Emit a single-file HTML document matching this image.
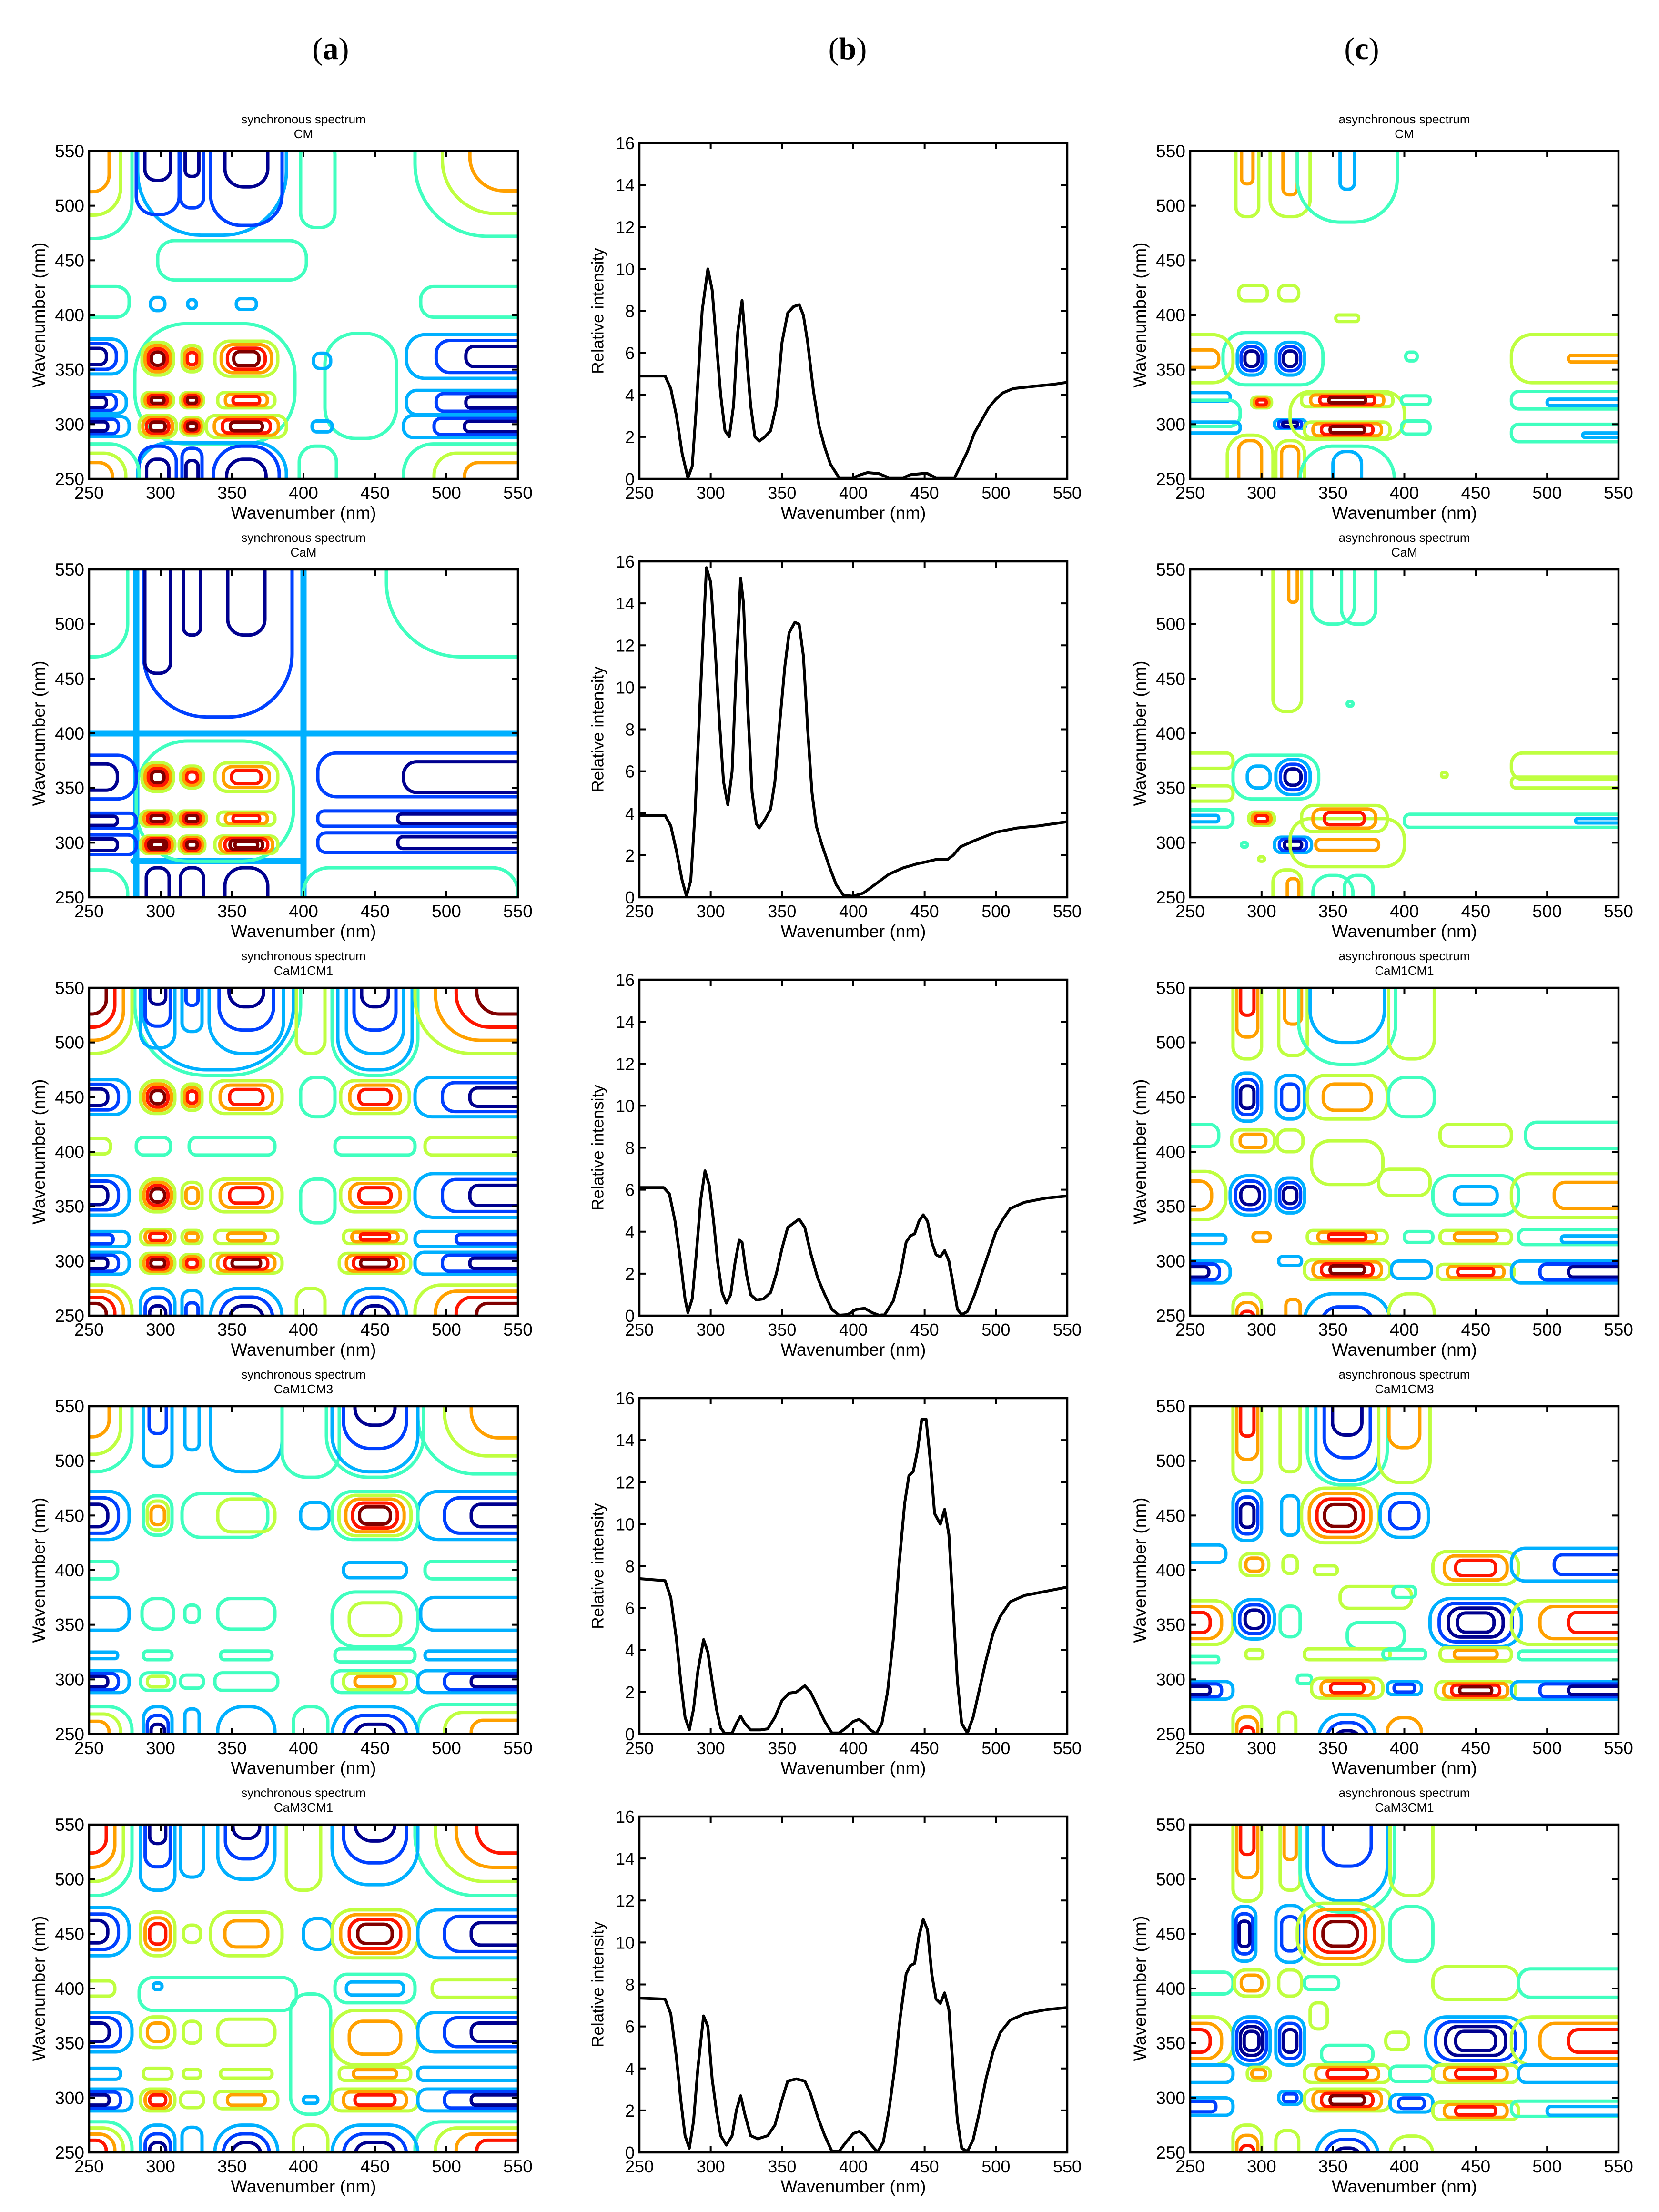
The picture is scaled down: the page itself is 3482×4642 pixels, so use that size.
<!DOCTYPE html>
<html><head><meta charset="utf-8">
<style>
html,body{margin:0;padding:0;background:#fff;}
svg{display:block;}
text{font-family:"Liberation Sans",sans-serif;fill:#000;}
</style></head>
<body>
<svg id="fig" xmlns="http://www.w3.org/2000/svg" width="3482" height="4642" viewBox="0 0 3482 4642">
<rect x="0" y="0" width="3482" height="4642" fill="#fff"/>
<text x="694" y="124" text-anchor="middle" style="font-family:'Liberation Serif',serif;font-size:66px;">(<tspan font-weight="bold">a</tspan>)</text>
<text x="1779" y="124" text-anchor="middle" style="font-family:'Liberation Serif',serif;font-size:66px;">(<tspan font-weight="bold">b</tspan>)</text>
<text x="2858" y="124" text-anchor="middle" style="font-family:'Liberation Serif',serif;font-size:66px;">(<tspan font-weight="bold">c</tspan>)</text>
</svg>
<script>
// ---------- shared axis ticks ----------
const xTicks = [250, 300, 350, 400, 450, 500, 550];
const yTicksContour = [250, 300, 350, 400, 450, 500, 550];
const yTicksLine = [0, 2, 4, 6, 8, 10, 12, 14, 16];
const sampleNames = ["CM", "CaM", "CaM1CM1", "CaM1CM3", "CaM3CM1"];

// ---------- line spectra (column b) ----------
const wlCM = [250,268,272,276,280,284,287,290,294,298,301,304,307,310,313,316,319,322,325,328,331,334,338,342,346,350,354,358,362,365,368,372,376,380,384,390,400,405,410,418,425,435,440,448,452,458,471,475,480,485,490,495,500,505,512,525,540,550];
const intCM = [4.9,4.9,4.3,3.0,1.2,0.05,0.6,3.5,8,10,9,6.5,4,2.3,2.0,3.5,7,8.5,6,3.5,2.0,1.8,2.0,2.3,3.5,6.5,7.9,8.2,8.3,7.8,6.5,4.2,2.5,1.5,0.7,0.05,0.05,0.2,0.3,0.25,0.05,0.05,0.2,0.25,0.25,0.05,0.05,0.6,1.3,2.2,2.8,3.4,3.8,4.1,4.3,4.4,4.5,4.6];
const wlCaM = [250,268,272,276,280,283,286,289,293,297,300,303,306,309,312,315,318,321,323,326,329,332,334,338,342,345,348,352,355,359,362,365,368,371,374,378,383,388,393,400,407,415,425,435,445,452,458,466,470,475,485,500,515,530,550];
const intCaM = [3.9,3.9,3.4,2.2,0.8,0.05,0.8,4,10,15.7,15,12,8.5,5.5,4.4,6,11,15.2,14,9,5,3.5,3.3,3.7,4.2,5.5,8,11,12.6,13.1,13,11.5,8,5,3.4,2.5,1.5,0.6,0.1,0.05,0.2,0.6,1.1,1.4,1.6,1.7,1.8,1.8,2.0,2.4,2.7,3.1,3.3,3.4,3.6];
const wlCaM1CM1 = [250,267,271,275,279,282,284,287,290,293,296,299,302,305,308,311,314,317,320,322,325,328,332,337,342,346,350,354,358,362,366,370,375,380,385,390,396,402,408,413,418,422,428,433,437,440,443,446,449,452,455,458,461,464,467,470,473,476,480,485,490,495,500,505,510,520,535,550];
const intCaM1CM1 = [6.1,6.1,5.8,4.5,2.5,0.8,0.15,0.8,3,5.5,6.9,6.2,4.5,2.5,1.1,0.6,1,2.5,3.6,3.5,2,1,0.75,0.8,1.1,2,3.2,4.2,4.4,4.6,4.2,3,1.8,1,0.3,0.02,0.05,0.3,0.35,0.15,0.02,0.05,0.7,2,3.5,3.8,3.9,4.5,4.8,4.5,3.5,2.9,2.8,3.1,2.6,1.5,0.3,0.05,0.2,1,2,3,4,4.6,5.1,5.4,5.6,5.7];
const wlCaM1CM3 = [250,268,272,276,279,282,285,288,291,295,298,301,304,307,310,315,318,321,324,328,335,340,345,350,355,360,366,370,375,380,385,390,395,400,404,408,412,416,420,424,428,432,436,439,442,445,448,451,454,457,461,464,467,470,473,476,480,484,488,493,498,503,510,520,535,550];
const intCaM1CM3 = [7.4,7.3,6.5,4.5,2.5,0.8,0.2,1.2,3,4.5,3.9,2.5,1.2,0.3,0.02,0.05,0.5,0.85,0.5,0.2,0.2,0.25,0.8,1.6,1.95,2.0,2.3,2.0,1.3,0.6,0.05,0.05,0.3,0.6,0.7,0.5,0.2,0.02,0.5,2,4.5,8,11,12.3,12.5,13.5,15,15,13,10.5,10,10.7,9.5,6,2.5,0.5,0.05,0.8,2,3.5,4.8,5.6,6.3,6.6,6.8,7.0];
const wlCaM3CM1 = [250,268,272,276,279,282,285,288,291,295,298,301,304,307,311,315,318,321,324,328,333,340,345,350,354,360,366,370,375,380,385,390,395,400,404,408,412,417,421,425,429,433,437,440,443,446,449,452,455,458,461,464,467,470,473,476,480,484,488,493,498,503,510,520,535,550];
const intCaM3CM1 = [7.35,7.3,6.6,4.5,2.5,0.8,0.2,1.5,4,6.5,6.0,3.5,2,0.8,0.35,0.8,2,2.7,1.8,0.8,0.65,0.8,1.3,2.5,3.4,3.5,3.4,2.8,1.7,0.8,0.05,0.05,0.5,0.9,1.0,0.8,0.4,0.02,0.5,2,4,6.5,8.5,8.9,9.0,10.3,11.1,10.6,8.5,7.3,7.1,7.6,6.8,4,1.5,0.2,0.05,0.6,1.8,3.5,4.8,5.7,6.3,6.6,6.8,6.9];

// ---------- contour blobs: [cx, cy, halfWidth, halfHeight, firstLevel, ringCount, sign] in nm ----------
const syncCM = [
[338,337,56,55,0,1,1],
[298,360,11,15,1,4,1],[322,360,7,12,1,3,1],[360,360,22,16,1,4,1],
[298,322,11,7,1,4,1],[322,322,8,7,1,4,1],[360,322,20,7,1,3,1],
[298,298,13,10,1,4,1],[322,298,8,8,1,4,1],[360,298,28,10,1,4,1],
[250,362,26,16,0,3,-1],[250,320,26,10,0,3,-1],[250,298,28,9,0,3,-1],
[550,362,78,20,0,3,-1],[550,320,78,11,0,3,-1],[550,298,80,10,0,3,-1],
[336,570,52,97,0,1,-1],[298,570,15,78,1,2,-1],[322,570,8,72,1,2,-1],[360,570,25,88,1,2,-1],
[336,250,52,33,0,1,-1],[298,250,13,30,1,2,-1],[322,250,7,28,1,2,-1],[360,250,23,30,1,2,-1],
[250,550,30,80,0,3,1],[550,550,72,78,0,3,1],[250,250,35,32,0,3,1],[550,250,80,32,0,3,1],
[410,520,12,40,0,1,1],[410,250,13,30,0,1,1],[250,412,28,14,0,1,1],[550,412,68,14,0,1,1],[440,335,25,48,0,1,1],[350,450,52,18,0,1,1],
[298,410,5,6,0,1,-1],[322,410,3,4,0,1,-1],[360,410,7,5,0,1,-1],[413,358,6,7,0,1,-1],[413,298,7,5,0,1,-1]
];
const syncCaM = [
[283,400,0.6,160,0,1,-1],[400,400,0.6,160,0,1,-1],[400,400,160,0.6,0,1,-1],[340,283,60,0.6,0,1,-1],
[340,560,52,145,1,1,-1],[298,570,9,115,2,1,-1],[322,570,6,80,2,1,-1],[360,570,13,80,2,1,-1],
[338,338,55,55,0,1,1],
[298,360,11,13,1,4,1],[322,360,8,10,1,3,1],[360,360,22,13,1,3,1],
[298,322,12,7,1,4,1],[322,322,10,7,1,4,1],[360,322,20,6,1,3,1],
[298,298,12,8,1,5,1],[322,298,9,8,1,4,1],[360,298,22,8,1,5,1],
[250,360,33,20,1,2,-1],[250,320,33,7,1,2,-1],[250,298,33,9,1,2,-1],
[550,362,140,20,1,1,-1],[550,360,80,14,2,1,-1],[550,322,140,7,1,2,-1],[550,300,140,9,1,2,-1],
[298,245,8,32,2,1,-1],[322,245,8,32,2,1,-1],[360,245,15,32,2,1,-1],
[550,550,92,80,0,1,1],[250,550,27,80,0,1,1],[250,250,27,25,0,1,1],[475,250,75,27,0,1,1]
];
const syncCaM1CM1 = [
[340,570,58,100,0,1,1],[450,570,30,100,0,1,1],
[340,570,53,95,0,1,-1],[450,570,26,95,0,1,-1],
[298,570,12,75,0,3,-1],[322,570,7,60,0,2,-1],[360,570,26,80,0,3,-1],[450,570,20,80,0,3,-1],
[298,245,12,30,0,3,-1],[322,245,7,28,0,2,-1],[360,245,25,30,0,3,-1],[450,245,22,30,0,3,-1],
[250,450,28,16,0,3,-1],[250,360,28,18,0,3,-1],[250,320,28,7,0,2,-1],[250,298,28,10,0,3,-1],
[550,450,72,18,0,3,-1],[550,360,72,20,0,3,-1],[550,320,72,7,0,2,-1],[550,298,72,10,0,3,-1],
[298,450,12,15,1,4,1],[322,450,7,12,1,3,1],[360,450,25,15,1,3,1],[450,450,24,15,1,3,1],
[298,360,12,15,1,4,1],[322,360,7,12,1,2,1],[360,360,25,15,1,3,1],[450,360,24,15,1,3,1],
[298,322,12,7,1,3,1],[322,322,7,6,1,2,1],[360,322,22,6,1,2,1],[450,322,22,6,1,3,1],
[298,298,12,9,1,4,1],[322,298,8,8,1,3,1],[360,298,25,9,1,4,1],[450,298,25,9,1,4,1],
[410,450,12,18,0,1,1],[410,355,12,20,0,1,1],[295,405,12,8,0,1,1],[350,405,30,8,0,1,1],[450,405,28,8,0,1,1],
[250,405,15,7,1,1,1],[550,405,65,8,1,1,1],[405,570,10,80,1,1,1],[405,245,10,30,1,1,1],
[250,550,30,60,1,4,1],[550,550,72,60,1,4,1],[250,250,30,28,1,4,1],[550,250,72,28,1,4,1]
];
const syncCaM1CM3 = [
[250,550,30,60,0,3,1],[550,550,70,62,0,3,1],[250,250,30,25,0,3,1],[550,250,70,27,0,3,1],
[298,570,10,75,0,2,-1],[322,570,5,60,0,1,-1],[360,570,25,80,0,1,-1],[405,570,20,85,0,1,1],[450,570,34,85,0,1,1],[450,570,30,80,0,3,-1],
[250,450,28,22,0,3,-1],[550,450,70,22,0,3,-1],[298,450,10,18,0,3,1],[345,450,30,20,0,1,1],[360,450,20,15,1,1,1],[408,450,10,12,0,1,-1],[450,450,30,22,0,5,1],
[250,400,20,8,0,1,1],[450,400,22,7,0,1,-1],[550,400,65,8,0,1,1],
[250,360,28,15,0,1,-1],[298,360,11,14,0,1,1],[322,360,5,8,0,1,1],[360,360,20,14,0,1,1],[450,355,30,25,0,2,1],[550,360,68,15,0,1,-1],
[250,322,20,3,0,1,-1],[298,322,10,4,0,1,1],[360,322,18,4,0,1,1],[450,322,28,6,0,1,1],[550,322,65,4,0,1,-1],
[250,298,28,10,0,3,-1],[298,298,12,8,0,2,1],[322,298,8,6,0,1,1],[360,298,22,8,0,1,1],[450,298,30,10,0,3,1],[550,298,70,10,0,3,-1],
[298,245,10,30,0,3,-1],[322,245,5,28,0,1,-1],[360,245,20,30,0,1,-1],[405,245,12,30,0,1,1],[450,245,30,30,0,3,-1]
];
const syncCaM3CM1 = [
[250,550,30,65,0,4,1],[550,550,72,65,0,4,1],[250,250,30,28,0,4,1],[550,250,72,28,0,4,1],
[298,570,12,80,0,3,-1],[322,570,8,68,0,1,-1],[360,570,20,70,0,3,-1],[400,570,12,80,1,1,1],[450,570,30,75,0,3,-1],
[250,452,28,22,0,3,-1],[298,450,12,20,1,3,1],[322,450,6,8,1,1,1],[360,450,25,20,1,2,1],[410,450,10,14,0,1,-1],[450,450,30,22,1,4,1],[550,450,70,22,0,3,-1],
[340,395,55,15,0,1,1],[298,402,3,3,0,1,-1],[450,400,28,13,0,1,1],[450,400,20,6,0,1,-1],[250,400,18,7,1,1,1],[550,400,60,8,1,1,1],[405,340,14,55,0,1,1],
[250,360,30,18,0,3,-1],[298,360,12,14,1,2,1],[322,360,6,10,1,1,1],[360,360,20,12,1,1,1],[450,355,30,25,1,2,1],[550,360,70,18,0,3,-1],
[250,322,22,5,0,1,-1],[298,322,10,5,1,1,1],[322,322,6,4,1,1,1],[360,322,18,4,1,1,1],[450,322,25,6,1,2,1],[550,322,70,6,0,1,-1],
[250,298,30,10,0,3,-1],[298,298,12,10,1,3,1],[322,298,8,7,1,1,1],[360,298,22,8,1,2,1],[405,298,5,3,0,1,-1],[450,298,30,10,1,3,1],[550,298,70,10,0,3,-1],
[298,245,12,30,0,3,-1],[322,245,7,28,0,1,-1],[360,245,22,30,0,3,-1],[405,245,12,30,1,1,1],[450,245,30,30,0,3,-1]
];
const asyncCM = [
[290,560,8,70,1,1,1],[290,560,4,40,2,1,1],[320,560,14,70,1,1,1],[320,560,5,50,2,1,1],[360,560,35,75,0,1,1],[360,560,5,45,0,1,-1],
[294,420,10,7,1,1,1],[319,420,7,7,1,1,1],[360,397,8,3,1,1,1],
[308,360,35,24,0,1,1],[293,360,10,15,0,3,-1],[320,360,10,15,0,3,-1],
[250,360,30,22,1,1,1],[250,360,20,8,2,1,1],[250,325,28,4,0,1,-1],[250,310,35,12,0,1,1],[250,297,35,5,0,1,-1],
[300,320,7,5,1,3,1],[320,300,11,4,0,3,-1],
[360,308,40,22,1,1,1],[360,322,32,6,1,4,1],[360,295,30,7,1,4,1],
[405,362,4,4,0,1,1],[408,322,10,4,0,1,1],[408,297,10,6,0,1,1],
[550,360,75,22,1,1,1],[550,360,35,3,2,1,1],[550,322,75,8,0,1,1],[550,320,50,3,0,1,-1],[550,292,75,8,0,1,1],[550,290,25,2,0,1,-1],
[292,245,16,45,1,1,1],[292,245,8,40,2,1,1],[320,245,10,40,1,1,1],[320,245,6,35,2,1,1],[360,245,33,35,0,1,1],[360,245,10,30,0,1,-1]
];
const asyncCaM = [
[318,560,10,140,1,1,1],[322,560,3,40,2,1,1],[350,560,15,60,0,1,1],[368,560,12,60,0,1,1],[362,427,2,2,0,1,1],[428,362,2,2,1,1,1],
[310,360,30,20,0,1,1],[298,360,8,10,0,1,-1],[322,360,12,16,0,3,-1],
[250,375,30,7,1,1,1],[250,345,30,7,1,1,1],[250,322,30,8,0,1,1],[250,322,20,3,0,1,-1],
[300,322,9,6,1,3,1],[322,298,13,7,0,3,-1],[288,298,2,2,0,1,1],[300,285,2,2,1,1,1],
[360,300,40,22,1,1,1],[358,322,30,12,1,3,1],[360,298,22,5,2,1,1],
[550,370,75,12,1,1,1],[550,355,75,5,1,1,1],[550,320,150,6,0,1,1],[550,320,30,2,0,1,-1],
[318,245,10,30,1,1,1],[322,245,4,22,2,1,1],[350,245,14,25,0,1,1],[368,245,10,25,0,1,1]
];
const asyncCaM1CM1 = [
[290,560,10,75,1,3,1],[322,560,10,72,1,2,1],[360,560,34,80,0,1,1],[360,560,26,60,0,1,-1],[405,560,16,75,1,1,1],
[290,450,10,22,0,3,-1],[320,450,10,20,0,2,-1],[360,450,28,20,1,2,1],[405,450,16,18,0,1,1],
[250,415,20,10,0,1,1],[294,410,15,10,1,2,1],[320,410,9,10,1,1,1],[360,390,25,20,1,1,1],[550,415,65,12,0,1,1],[450,415,25,10,1,1,1],
[250,360,25,22,1,2,1],[292,360,14,18,0,3,-1],[320,360,10,16,0,3,-1],[450,360,30,18,0,1,1],[450,360,15,8,0,1,-1],[550,360,75,20,1,2,1],[400,372,18,12,1,1,1],
[250,320,25,4,0,1,-1],[300,322,6,4,2,1,1],[360,322,28,6,1,3,1],[410,322,10,5,0,1,1],[450,322,25,6,1,2,1],[550,322,70,7,0,1,1],[550,320,40,3,0,1,-1],
[250,290,28,10,0,3,-1],[320,300,8,4,0,1,-1],[360,292,30,9,1,4,1],[405,292,14,8,0,1,-1],[450,290,27,7,1,3,1],[550,290,75,10,0,3,-1],
[290,240,10,30,1,3,1],[322,240,5,25,2,1,1],[360,240,30,30,0,2,-1],[405,240,16,30,1,1,1]
];
const asyncCaM1CM3 = [
[290,560,10,80,1,3,1],[320,560,7,70,1,1,1],[360,560,28,82,0,1,1],[360,560,22,78,0,3,-1],[400,560,18,80,1,2,1],
[290,450,10,23,0,3,-1],[320,450,6,18,0,1,-1],[355,450,27,25,1,4,1],[400,450,17,20,0,2,-1],
[250,415,25,8,0,1,-1],[295,405,10,10,1,2,1],[320,405,5,8,1,1,1],[345,400,8,4,1,1,1],[450,402,30,15,1,3,1],[550,405,75,15,0,2,-1],[380,375,25,10,1,1,1],[400,380,8,5,0,1,1],
[250,352,30,20,1,3,1],[295,355,14,18,0,3,-1],[320,353,7,14,0,1,1],[450,352,32,22,0,4,-1],[550,352,75,20,1,3,1],[380,340,20,12,0,1,1],
[295,323,6,4,1,1,1],[360,323,30,5,1,1,1],[400,323,15,4,0,1,1],[450,323,25,6,1,2,1],[250,318,20,3,0,1,1],[550,322,70,4,0,1,1],
[250,290,30,8,0,3,-1],[330,300,5,4,0,1,1],[360,292,25,9,1,3,1],[400,292,12,6,0,2,-1],[450,290,28,8,1,4,1],[550,290,75,8,0,3,-1],
[290,240,10,35,1,3,1],[318,240,6,30,1,1,1],[360,240,20,28,0,3,-1],[400,240,12,25,2,1,1]
];
const asyncCaM3CM1 = [
[290,560,10,80,1,3,1],[320,560,7,70,1,2,1],[360,560,33,90,0,1,1],[360,560,28,80,0,2,-1],[405,560,15,75,1,1,1],
[288,450,8,25,0,3,-1],[320,450,10,26,0,2,-1],[355,450,30,28,1,4,1],[405,450,15,25,0,1,1],
[250,405,30,10,0,1,1],[293,405,12,12,1,2,1],[320,405,8,12,1,1,1],[342,405,12,6,0,1,1],[450,405,30,15,1,1,1],[550,405,70,13,0,1,1],
[250,352,30,22,1,3,1],[293,352,13,22,0,4,-1],[320,352,10,22,0,3,-1],[340,375,6,12,1,1,1],[395,352,8,8,1,1,1],[360,340,18,8,0,1,1],[450,352,35,22,0,4,-1],[550,352,75,22,1,3,1],
[250,322,30,8,0,1,-1],[298,322,8,6,1,2,1],[360,322,30,8,1,3,1],[405,322,15,7,0,1,1],[450,322,30,8,1,3,1],[550,322,70,8,0,1,-1],
[250,292,30,8,0,2,-1],[320,300,8,6,0,2,-1],[360,298,30,10,1,4,1],[405,295,15,8,0,2,-1],[450,288,30,8,1,3,1],[550,290,75,7,0,1,1],[550,288,50,4,0,1,-1],
[290,240,10,35,1,3,1],[318,240,8,30,1,1,1],[360,240,22,30,0,3,-1],[405,240,15,25,1,1,1]
];

const syncSets = [syncCM, syncCaM, syncCaM1CM1, syncCaM1CM3, syncCaM3CM1];
const asyncSets = [asyncCM, asyncCaM, asyncCaM1CM1, asyncCaM1CM3, asyncCaM3CM1];
const lineX = [wlCM, wlCaM, wlCaM1CM1, wlCaM1CM3, wlCaM3CM1];
const lineY = [intCM, intCaM, intCaM1CM1, intCaM1CM3, intCaM3CM1];

const POS = ['#40ffbf','#bfff40','#ffa000','#ff1500','#800000'];
const NEG = ['#00b0ff','#0040ff','#00008f'];

const NS = 'http://www.w3.org/2000/svg';
const svg = document.getElementById('fig');
function mk(tag, attrs, parent) {
  const e = document.createElementNS(NS, tag);
  for (const k in attrs) e.setAttribute(k, attrs[k]);
  (parent || svg).appendChild(e);
  return e;
}
function txt(str, attrs, parent) { const t = mk('text', attrs, parent); t.textContent = str; return t; }

const ROW0_BOTTOM = 1005, ROW_STEP = 878;
const COLA = [187, 1087], COLB = [1342, 2240], COLC = [2498, 3397];

function axesFrame(g, x0, x1, y0, y1, ymin, ymax, yt, labelY, ylabX, ylabText, fs) {
  const sx = v => x0 + (v - 250) / 300 * (x1 - x0);
  const sy = v => y1 - (v - ymin) / (ymax - ymin) * (y1 - y0);
  const tl = 13;
  xTicks.forEach(v => {
    const x = sx(v);
    const t1 = mk('line', {x1:x, y1:y1, x2:x, y2:y1 - tl, stroke:'#000', 'stroke-width':4}, g);
    
    
    mk('line', {x1:x, y1:y0, x2:x, y2:y0 + tl, stroke:'#000', 'stroke-width':4}, g);
    const l = txt(String(v), {x:x, y:y1 + 42, 'text-anchor':'middle', 'font-size':fs}, g);
    
    
  });
  yt.forEach(v => {
    const y = sy(v);
    const t1 = mk('line', {x1:x0, y1:y, x2:x0 + tl, y2:y, stroke:'#000', 'stroke-width':4}, g);
    
    
    mk('line', {x1:x1, y1:y, x2:x1 - tl, y2:y, stroke:'#000', 'stroke-width':4}, g);
    const l = txt(String(v), {x:x0 - 10, y:y + 13, 'text-anchor':'end', 'font-size':fs}, g);
    
    
  });
  const fr = mk('rect', {x:x0, y:y0, width:x1 - x0, height:y1 - y0, fill:'none', stroke:'#000', 'stroke-width':4.5}, g);
  
  
  const xl = txt('Wavenumber (nm)', {x:(x0 + x1) / 2, y:y1 + 84, 'text-anchor':'middle', 'font-size':37}, g);
  
  
  const cy = (y0 + y1) / 2;
  const yl = txt(ylabText, {x:ylabX, y:cy, 'text-anchor':'middle', 'font-size':labelY, transform:'rotate(-90 ' + ylabX + ' ' + cy + ')', dy:'0.35em'}, g);
  
  
  return {sx, sy};
}

let clipId = 0;
function contourPanel(col, row, blobs, kind) {
  const [x0, x1] = col;
  const y1 = ROW0_BOTTOM + row * ROW_STEP, y0 = y1 - 688;
  const g = mk('g', {});
  
  
  const cid = 'clip' + (clipId++);
  const cp = mk('clipPath', {id:cid}, g);
  mk('rect', {x:x0, y:y0, width:x1 - x0, height:y1 - y0}, cp);
  const sx = v => x0 + (v - 250) / 300 * (x1 - x0);
  const sy = v => y1 - (v - 250) / 300 * (y1 - y0);
  const pxX = (x1 - x0) / 300, pxY = (y1 - y0) / 300;
  const cg = mk('g', {'clip-path':'url(#' + cid + ')'}, g);
  blobs.forEach(b => {
    const [cx, cy, hw, hh, lev0, n, sign] = b;
    const pal = sign > 0 ? POS : NEG;
    for (let k = 0; k < n; k++) {
      const f = 1 - k * 0.8 / n;
      const w = Math.max(hw * f * pxX, 3), h = Math.max(hh * f * pxY, 3);
      const r = Math.min(w, h) * 0.85;
      const rc = mk('rect', {x:sx(cx) - w, y:sy(cy) - h, width:2 * w, height:2 * h, rx:r, ry:r, fill:'none',
        stroke:pal[Math.min(lev0 + k, pal.length - 1)], 'stroke-width':7}, cg);
      
      
    }
  });
  axesFrame(g, x0, x1, y0, y1, 250, 550, yTicksContour, 37, x0 - 106, 'Wavenumber (nm)', 37);
  const t1 = txt(kind + ' spectrum', {x:(x0 + x1) / 2, y:y0 - 58, 'text-anchor':'middle', 'font-size':26}, g);
  
  
  const t2 = txt(sampleNames[row], {x:(x0 + x1) / 2, y:y0 - 27, 'text-anchor':'middle', 'font-size':26}, g);
  
  
}

function linePanel(row) {
  const [x0, x1] = COLB;
  const y1 = ROW0_BOTTOM + row * ROW_STEP, y0 = y1 - 705;
  const g = mk('g', {});
  
  
  const sx = v => x0 + (v - 250) / 300 * (x1 - x0);
  const sy = v => y1 - v / 16 * (y1 - y0);
  const xs = lineX[row], ys = lineY[row];
  let d = '';
  xs.forEach((x, i) => { d += (i ? 'L' : 'M') + sx(x).toFixed(1) + ' ' + sy(ys[i]).toFixed(1); });
  const p = mk('path', {d:d, fill:'none', stroke:'#000', 'stroke-width':6, 'stroke-linejoin':'round'}, g);
  
  
  axesFrame(g, x0, x1, y0, y1, 0, 16, yTicksLine, 35, x0 - 88, 'Relative intensity', 36);
}

for (let r = 0; r < 5; r++) {
  contourPanel(COLA, r, syncSets[r], 'synchronous');
  linePanel(r);
  contourPanel(COLC, r, asyncSets[r], 'asynchronous');
}
</script>
</body></html>
